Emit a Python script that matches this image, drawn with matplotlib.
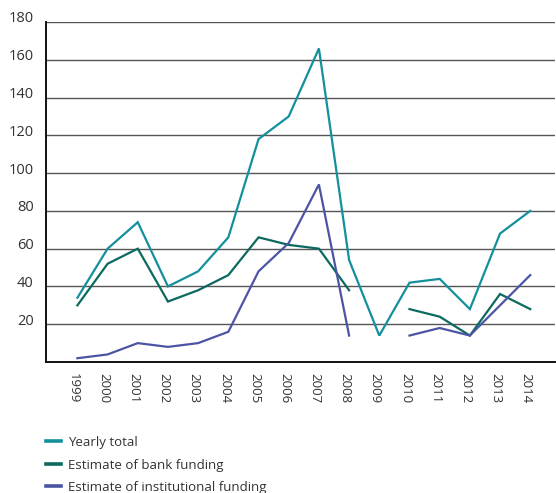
import numpy as np
import matplotlib
matplotlib.use("Agg")
import matplotlib.pyplot as plt
import matplotlib.transforms as mtransforms

# Data
tahun = list(range(1999, 2015))
total_tahunan = [34, 60, 74, 40, 48, 66, 118, 130, 166, 54, 14, 42, 44, 28, 68, 80]
dana_bank = [30, 52, 60, 32, 38, 46, 66, 62, 60, 38, np.nan, 28, 24, 14, 36, 28]
dana_institusi = [2, 4, 10, 8, 10, 16, 48, 63, 94, 14, np.nan, 14, 18, 14, 30, 46]
label_seri = ["Yearly total", "Estimate of bank funding", "Estimate of institutional funding"]
warna = ["#13909c", "#0b6a5e", "#4b55a3"]
y_ticks = [20, 40, 60, 80, 100, 120, 140, 160, 180]

plt.rcParams["font.family"] = ["Open Sans", "DejaVu Sans"]

fig = plt.figure(figsize=(5.56, 4.93), dpi=100)
ax = fig.add_axes([46 / 556, (493 - 362) / 493, 509 / 556, 340 / 493])

for seri, lbl, c in zip([total_tahunan, dana_bank, dana_institusi], label_seri, warna):
    ax.plot(tahun, seri, color=c, lw=1.6, label=lbl, solid_joinstyle="miter")

ax.set_xlim(1997.96, 2014.82)
ax.set_ylim(0, 180)
ax.set_yticks(y_ticks)
ax.set_yticklabels([str(v) for v in y_ticks], fontsize=10.5, color="#333333")
ax.set_xticks(tahun)
ax.set_xticklabels([str(t) for t in tahun], rotation=270, fontsize=9.5, color="#333333")
ax.tick_params(axis="both", length=0)
ax.tick_params(axis="y", pad=9)
ax.tick_params(axis="x", pad=8)

# geser label y sedikit ke atas seperti referensi
geser = mtransforms.ScaledTranslation(0, 5 / 100, fig.dpi_scale_trans)
for t in ax.get_yticklabels():
    t.set_transform(t.get_transform() + geser)
geser_x = mtransforms.ScaledTranslation(-4 / 100, 0, fig.dpi_scale_trans)
for t in ax.get_xticklabels():
    t.set_transform(t.get_transform() + geser_x)

ax.grid(axis="y", color="#555555", lw=1.0)
ax.set_axisbelow(True)
for s in ["top", "right"]:
    ax.spines[s].set_visible(False)
for s in ["left", "bottom"]:
    ax.spines[s].set_linewidth(1.4)
    ax.spines[s].set_color("#111111")

leg = fig.legend(loc="upper left", bbox_to_anchor=(46 / 556, (493 - 436) / 493), frameon=False,
                 fontsize=9.5, handlelength=1.1, handletextpad=0.55, labelspacing=0.72,
                 borderpad=0, borderaxespad=0, labelcolor="#333333")
for h in leg.legend_handles:
    h.set_linewidth(2.6)

fig.savefig("out.png", dpi=100)
